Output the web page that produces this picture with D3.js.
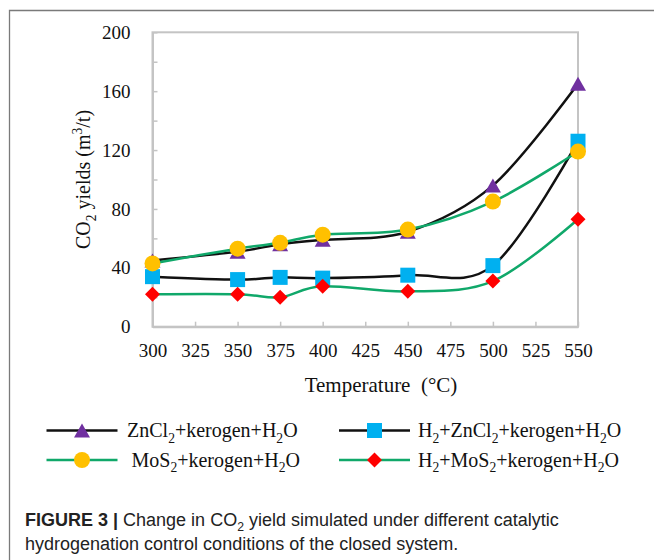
<!DOCTYPE html>
<html>
<head>
<meta charset="utf-8">
<script src="https://cdn.jsdelivr.net/npm/d3@7/dist/d3.min.js"></script>
<style>
  html, body { margin: 0; padding: 0; background: #fff; }
  svg { display: block; }
</style>
</head>
<body>
<script>
// Temperatures (°C) at which the yields were simulated
const temps = [300, 350, 375, 400, 450, 500, 550];

// CO2 yields (m3/t) per catalytic condition
const zncl2   = [45, 51, 56, 59, 64.5, 96, 165];
const h2Zncl2 = [34, 32, 33.5, 33, 35, 41.5, 126];
const mos2    = [43, 53, 57, 62.5, 66, 85, 119];
const h2Mos2  = [22, 22, 20, 27.5, 24, 31, 73];

// Series labels ("_x" = subscript, "^x" = superscript)
const seriesNames = [
  "ZnCl_2+kerogen+H_2O",
  "H_2+ZnCl_2+kerogen+H_2O",
  "MoS_2+kerogen+H_2O",
  "H_2+MoS_2+kerogen+H_2O"
];

// Axis ticks and labels
const xTicks = [300, 325, 350, 375, 400, 425, 450, 475, 500, 525, 550];
const yTicks = [0, 20, 40, 60, 80, 100, 120, 140, 160, 180, 200];
const yTickLabels = [0, 40, 80, 120, 160, 200];
const xTitle = "Temperature\u00a0\u00a0(°C)";
const yTitle = "CO_2 yields (m^3/t)";

// Caption
const captionBold = "FIGURE 3 |";
const captionLine1 = " Change in CO_2 yield simulated under different catalytic";
const captionLine2 = "hydrogenation control conditions of the closed system.";

const W = 654, H = 560;
const serif = "'Liberation Serif', 'Times New Roman', serif";
const sans = "'Liberation Sans', Arial, sans-serif";
const grey = "#c4c4c4";
const green = "#10a86a";

const series = [
  { values: zncl2,   line: "#111", marker: "triangle", fill: "#7030a0" },
  { values: h2Zncl2, line: "#111", marker: "square",   fill: "#00b0f0" },
  { values: mos2,    line: green,  marker: "circle",   fill: "#ffc000" },
  { values: h2Mos2,  line: green,  marker: "diamond",  fill: "#ff0000" }
];

// Append text with _sub / ^sup markup as tspans
function richText(sel, str, size) {
  const re = /([_^])(.)|([^_^]+)/g;
  let m, shift = 0;
  while ((m = re.exec(str)) !== null) {
    if (m[3] !== undefined) {
      const t = sel.append("tspan").text(m[3]);
      if (shift) { t.attr("dy", -shift); shift = 0; }
    } else {
      const d = m[1] === "_" ? size * 0.28 : -size * 0.38;
      sel.append("tspan").attr("dy", d - shift).attr("font-size", size * 0.68).text(m[2]);
      shift = d;
    }
  }
  if (shift) sel.append("tspan").attr("dy", -shift).text("\u200b");
  return sel;
}

function markerPath(type) {
  switch (type) {
    case "triangle": return "M0,-7L8,7L-8,7Z";
    case "square":   return "M-7.5,-7.5H7.5V7.5H-7.5Z";
    case "diamond":  return "M0,-7.5L7.5,0L0,7.5L-7.5,0Z";
    default:         return d3.symbol(d3.symbolCircle, Math.PI * 64)();
  }
}

const svg = d3.select("body").append("svg")
  .attr("width", W).attr("height", H);

svg.append("rect").attr("width", W).attr("height", H).attr("fill", "#fff");

// Panel frame (open to the right and bottom)
svg.append("path")
  .attr("d", `M9.5,${H}V10.5H${W}`)
  .attr("fill", "none").attr("stroke", "#7a7a7a").attr("stroke-width", 1.3);

const x = d3.scaleLinear().domain([300, 550]).range([152.5, 578]);
const y = d3.scaleLinear().domain([0, 200]).range([326.7, 32.3]);

// Plot frame
svg.append("rect")
  .attr("x", x(300)).attr("y", y(200))
  .attr("width", x(550) - x(300)).attr("height", y(0) - y(200))
  .attr("fill", "none").attr("stroke", grey).attr("stroke-width", 2);

// Axes with inward ticks
const xAxis = svg.append("g")
  .attr("transform", `translate(0,${y(0)})`)
  .call(d3.axisBottom(x).tickValues(xTicks).tickSizeInner(-5).tickSizeOuter(0).tickPadding(17));
const yAxis = svg.append("g")
  .attr("transform", `translate(${x(300)},0)`)
  .call(d3.axisLeft(y).tickValues(yTicks).tickSizeInner(-5).tickSizeOuter(0).tickPadding(22)
    .tickFormat(d => yTickLabels.includes(d) ? d : ""));

[xAxis, yAxis].forEach(g => {
  g.select(".domain").attr("stroke", grey).attr("stroke-width", 2);
  g.selectAll(".tick line").attr("stroke", grey).attr("stroke-width", 1.5);
  g.selectAll(".tick text").attr("font-family", serif).attr("font-size", 19).attr("fill", "#111");
});

// Axis titles
svg.append("text")
  .attr("x", 381).attr("y", 385).attr("dy", "0.35em")
  .attr("text-anchor", "middle")
  .attr("font-family", serif).attr("font-size", 21).attr("fill", "#111")
  .text(xTitle);

richText(
  svg.append("text")
    .attr("transform", `translate(90,179.5) rotate(-90)`)
    .attr("text-anchor", "middle")
    .attr("font-family", serif).attr("font-size", 20).attr("fill", "#111"),
  yTitle, 20);

// Smoothed series with markers
const line = d3.line()
  .x((d, i) => x(temps[i]))
  .y(d => y(d))
  .curve(d3.curveCardinal.tension(0));

const plot = svg.append("g");
series.forEach(s => {
  const g = plot.append("g");
  g.append("path")
    .attr("d", line(s.values))
    .attr("fill", "none").attr("stroke", s.line).attr("stroke-width", 2.5);
  g.selectAll("path.mk").data(s.values).join("path")
    .attr("class", "mk")
    .attr("transform", (d, i) => `translate(${x(temps[i])},${y(d)})`)
    .attr("d", markerPath(s.marker))
    .attr("fill", s.fill);
});

// Legend (2 x 2)
const legendCols = [{ x0: 46.5, x1: 117.5, tx: 127 }, { x0: 339, x1: 410, tx: 418 }];
const legendRows = [430.5, 460];
const legendOrder = [0, 1, 2, 3];
legendOrder.forEach((k, i) => {
  const c = legendCols[i % 2], ry = legendRows[Math.floor(i / 2)];
  const s = series[k];
  const g = svg.append("g");
  g.append("line")
    .attr("x1", c.x0).attr("x2", c.x1).attr("y1", ry).attr("y2", ry)
    .attr("stroke", s.line).attr("stroke-width", 2.5);
  g.append("path")
    .attr("transform", `translate(${(c.x0 + c.x1) / 2},${ry})`)
    .attr("d", markerPath(s.marker)).attr("fill", s.fill);
  richText(
    g.append("text")
      .attr("x", c.tx + (k === 2 ? 4.5 : 0)).attr("y", ry).attr("dy", "0.33em")
      .attr("font-family", serif).attr("font-size", 20).attr("fill", "#111"),
    seriesNames[k], 20);
});

// Caption
const cap1 = svg.append("text")
  .attr("x", 25).attr("y", 525.5)
  .attr("font-family", sans).attr("font-size", 18).attr("fill", "#222");
cap1.append("tspan").attr("font-weight", "bold").text(captionBold);
richText(cap1, captionLine1, 18);
svg.append("text")
  .attr("x", 25).attr("y", 549.5)
  .attr("font-family", sans).attr("font-size", 18).attr("fill", "#222")
  .text(captionLine2);
</script>
</body>
</html>
